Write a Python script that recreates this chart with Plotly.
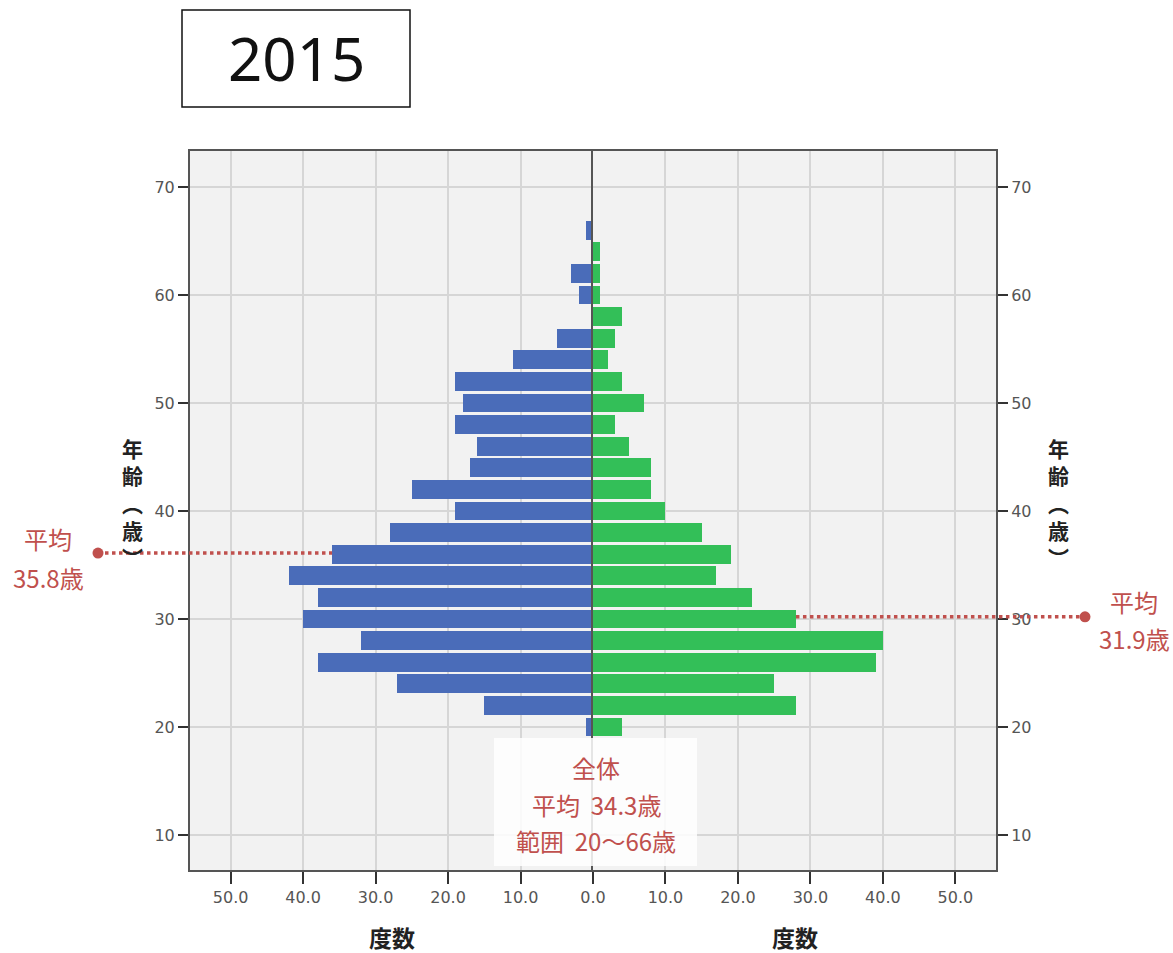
import plotly.graph_objects as go

# ---------------- data ----------------
ages = [20, 22, 24, 26, 28, 30, 32, 34, 36, 38, 40, 42, 44, 46, 48, 50, 52, 54, 56, 58, 60, 62, 64, 66]
left_counts = [1, 15, 27, 38, 32, 40, 38, 42, 36, 28, 19, 25, 17, 16, 19, 18, 19, 11, 5, 0, 2, 3, 0, 1]
right_counts = [4, 28, 25, 39, 40, 28, 22, 17, 19, 15, 10, 8, 8, 5, 3, 7, 4, 2, 3, 4, 1, 1, 1, 0]
x_ticks = [0, 10, 20, 30, 40, 50]
y_ticks = [10, 20, 30, 40, 50, 60, 70]
title_text = "2015"
left_mean_label = ["平均", "35.8歳"]
right_mean_label = ["平均", "31.9歳"]
overall_label = ["全体", "平均  34.3歳", "範囲  20〜66歳"]
# age position where the mean markers are drawn on the chart
left_marker_age = 36.1
right_marker_age = 30.2
# bar whose end the dotted lines meet
left_marker_bar = 36
right_marker_bar = 30

# ---------------- layout constants ----------------
W, H = 1173, 953
PL, PR, PT, PB = 190, 996, 151, 870
X_MAX = 55.6
Y_RANGE = [6.76, 73.33]

BLUE = "#4a6cb9"
GREEN = "#33bf58"
RED = "#c0504d"
BG = "#f2f2f2"
GRID = "#d6d6d6"
AXIS = "#555555"
CJK = "Noto Sans CJK JP"


def pxx(p):
    return (p - PL) / (PR - PL)


def pxy(p):
    return (PB - p) / (PB - PT)


def left_x(v):
    return 0.5 * (X_MAX - v) / X_MAX


def right_x(v):
    return 0.5 + 0.5 * v / X_MAX


def age_y(a):
    return (a - Y_RANGE[0]) / (Y_RANGE[1] - Y_RANGE[0])


fig = go.Figure()
fig.add_trace(go.Bar(y=ages, x=left_counts, orientation="h", width=1.74,
                     marker=dict(color=BLUE, line=dict(width=0)),
                     xaxis="x", yaxis="y", showlegend=False))
fig.add_trace(go.Bar(y=ages, x=right_counts, orientation="h", width=1.74,
                     marker=dict(color=GREEN, line=dict(width=0)),
                     xaxis="x2", yaxis="y2", showlegend=False))

tickfont = dict(family="DejaVu Sans", size=16, color="#555555")
xcommon = dict(showgrid=True, gridcolor=GRID, gridwidth=1.5, zeroline=False,
               showline=True, linecolor=AXIS, linewidth=2, mirror=True,
               ticks="outside", ticklen=12, tickwidth=2, tickcolor="#333333",
               tickformat=".1f", tickfont=tickfont, fixedrange=True)
ycommon = dict(range=Y_RANGE, tickvals=y_ticks, showgrid=True, gridcolor=GRID,
               gridwidth=1.5, zeroline=False, showline=True, linecolor=AXIS,
               linewidth=2, ticks="outside", ticklen=10,
               tickwidth=2, tickcolor="#333333", tickfont=tickfont,
               domain=[0, 1], fixedrange=True)

fig.update_layout(
    width=W, height=H,
    margin=dict(l=PL, r=W - PR, t=PT, b=H - PB),
    paper_bgcolor="white", plot_bgcolor=BG,
    bargap=0,
    xaxis=dict(domain=[0, 0.5], range=[X_MAX, 0], anchor="y",
               tickvals=x_ticks, **xcommon),
    xaxis2=dict(domain=[0.5, 1], range=[0, X_MAX], anchor="y2",
                tickvals=x_ticks[1:], **xcommon),
    yaxis=dict(anchor="x", side="left", mirror=False, **ycommon),
    yaxis2=dict(anchor="x2", side="right", mirror=True, **ycommon),
)

shapes = []
annotations = []

# title box
shapes.append(dict(type="rect", xref="paper", yref="paper",
                   x0=pxx(182), x1=pxx(410), y0=pxy(107), y1=pxy(10),
                   line=dict(color="#111111", width=1.5), fillcolor="white"))
annotations.append(dict(text=title_text, xref="paper", yref="paper",
                        x=pxx(296), y=pxy(58), showarrow=False,
                        font=dict(family="Noto Sans", size=60, color="#111111"),
                        xanchor="center", yanchor="middle"))

# x-axis titles
for cx in (left_x(X_MAX / 2), right_x(X_MAX / 2)):
    annotations.append(dict(text="<b>度数</b>", xref="paper", yref="paper",
                            x=cx, y=pxy(937), showarrow=False,
                            font=dict(family=CJK, size=23, color="#222222"),
                            xanchor="center", yanchor="middle"))

# vertical y-axis titles
ytitle = "<br>".join("<b>%s</b>" % c for c in ["年", "齢", "︵", "歳", "︶"])
for xp in (132, 1058):
    annotations.append(dict(text=ytitle, xref="paper", yref="paper",
                            x=pxx(xp), y=pxy(503), showarrow=False,
                            font=dict(family=CJK, size=21, color="#222222"),
                            xanchor="center", yanchor="middle"))

# mean markers (dotted lines + dots)
ly = age_y(left_marker_age)
ry = age_y(right_marker_age)
lbar = left_counts[ages.index(left_marker_bar)]
rbar = right_counts[ages.index(right_marker_bar)]
shapes.append(dict(type="line", xref="paper", yref="paper",
                   x0=pxx(98), x1=left_x(lbar), y0=ly, y1=ly,
                   line=dict(color=RED, width=3.5, dash="dot")))
shapes.append(dict(type="line", xref="paper", yref="paper",
                   x0=right_x(rbar), x1=pxx(1085), y0=ry, y1=ry,
                   line=dict(color=RED, width=3.5, dash="dot")))
for xa, ya in ((pxx(98), ly), (pxx(1085), ry)):
    shapes.append(dict(type="circle", xref="paper", yref="paper",
                       xsizemode="pixel", ysizemode="pixel",
                       xanchor=xa, yanchor=ya, x0=-5.5, x1=5.5, y0=-5.5, y1=5.5,
                       fillcolor=RED, line=dict(color=RED, width=0)))

redfont = dict(family=CJK, size=24, color=RED)
for txt, yp in zip(left_mean_label, (538, 577)):
    annotations.append(dict(text=txt, xref="paper", yref="paper", x=pxx(48), y=pxy(yp),
                            showarrow=False, font=redfont, xanchor="center", yanchor="middle"))
for txt, yp in zip(right_mean_label, (601, 638)):
    annotations.append(dict(text=txt, xref="paper", yref="paper", x=pxx(1134), y=pxy(yp),
                            showarrow=False, font=redfont, xanchor="center", yanchor="middle"))

# overall summary box
shapes.append(dict(type="rect", xref="paper", yref="paper", layer="above",
                   x0=pxx(494), x1=pxx(697), y0=pxy(866), y1=pxy(738),
                   fillcolor="rgba(255,255,255,0.85)", line=dict(width=0)))
for txt, yp in zip(overall_label, (767, 804, 840)):
    annotations.append(dict(text=txt, xref="paper", yref="paper", x=pxx(596), y=pxy(yp),
                            showarrow=False, font=redfont, xanchor="center", yanchor="middle"))

fig.update_layout(shapes=shapes, annotations=annotations)
fig.write_html("out.html", config={"displayModeBar": False},
               post_script="document.body.style.margin='0';document.body.style.overflow='hidden';")
